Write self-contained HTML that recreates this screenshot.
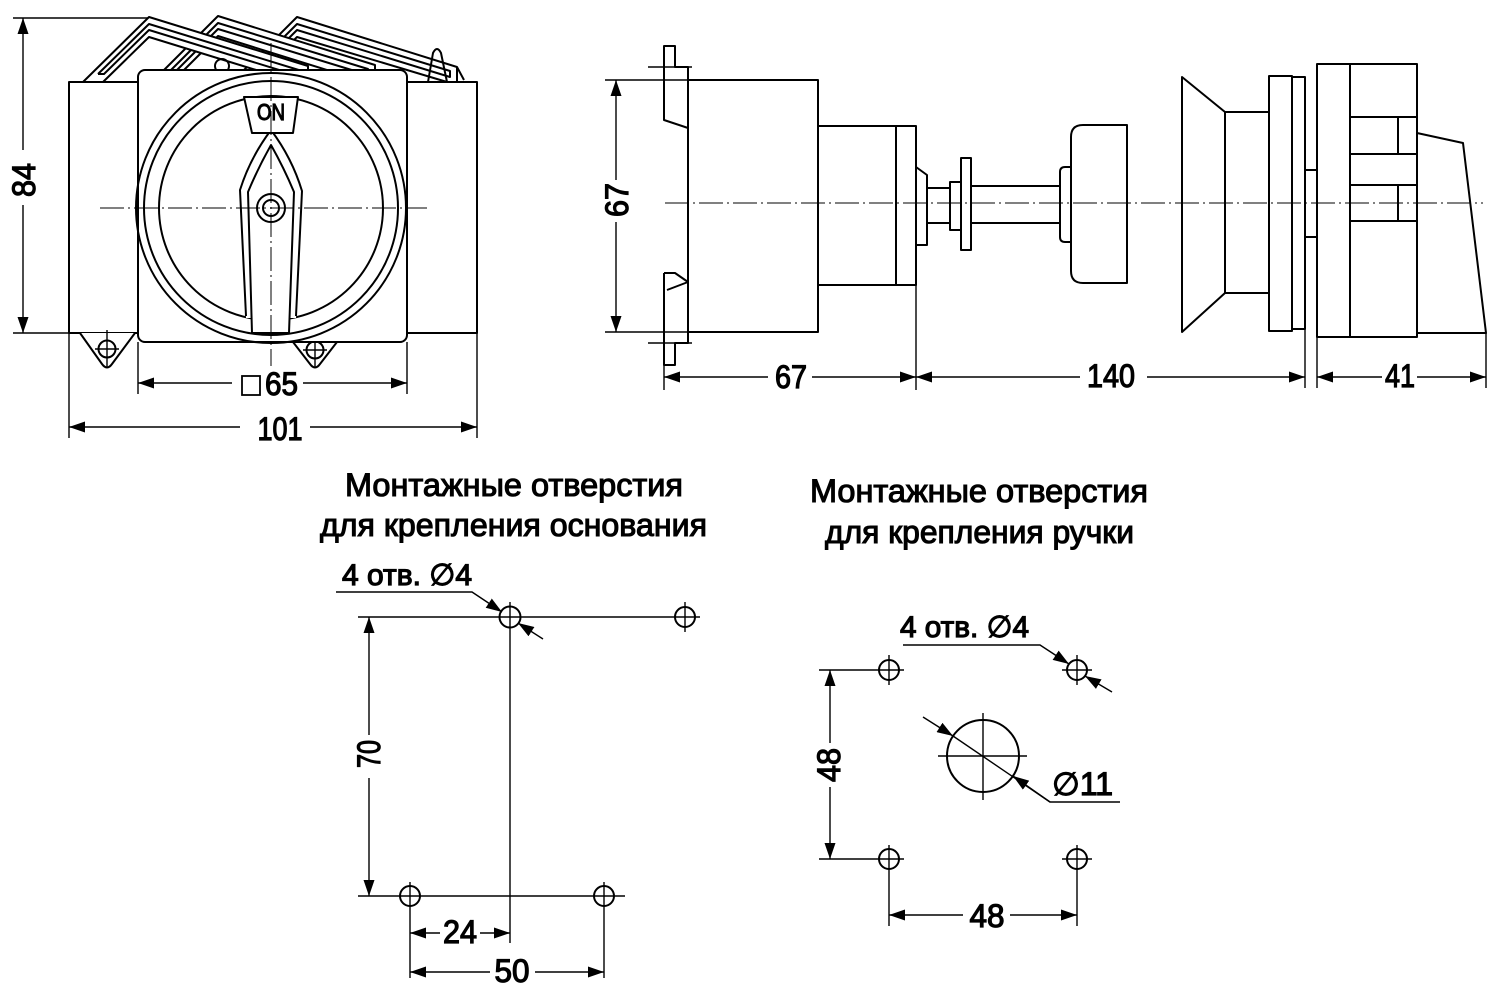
<!DOCTYPE html>
<html><head><meta charset="utf-8"><style>
html,body{margin:0;padding:0;background:#fff;}
svg{display:block;}
text{font-family:"Liberation Sans Narrow","Liberation Sans","DejaVu Sans",sans-serif;fill:#000;}
.o{stroke:#000;stroke-width:2;fill:none;stroke-linejoin:round;}
.w{stroke:#000;stroke-width:2;fill:#fff;stroke-linejoin:round;}
.d{stroke:#000;stroke-width:1.4;fill:none;}
.c{stroke:#000;stroke-width:1;fill:none;stroke-dasharray:24 4 2 4;}
.t{stroke:#000;stroke-width:1.2;}
.h{stroke:#000;stroke-width:1.1;}
</style></head><body>
<svg width="1500" height="997" viewBox="0 0 1500 997" xmlns="http://www.w3.org/2000/svg">
<defs>
<marker id="ar" markerWidth="16" markerHeight="11" refX="16" refY="5.5" orient="auto-start-reverse" markerUnits="userSpaceOnUse"><path d="M0,0 L16,5.5 L0,11 z" fill="#000"/></marker>
</defs>
<rect width="1500" height="997" fill="#fff"/>

<!-- ============ FRONT VIEW ============ -->
<polygon class="w" points="244,70 297,17 457,67 457,85 297,37 264,70"/>
<polyline class="o" points="251,70 297,24 450,71 450,77 297,30 257,70"/>
<path class="o" d="M457,67 L464,80 M428,82 L433,53 Q437,45 441,53 L447,82"/>
<polygon class="w" points="164,70 218,16 375,65 375,85 218,36 184,70"/>
<polyline class="o" points="171,70 218,23 368,69 368,75 218,29 177,70"/>
<polygon class="w" points="83,82 149,17 308,66 308,86 149,37 103,82"/>
<polyline class="o" points="98,74 149,24 302,71 302,77 149,30 104,74 98,74"/>
<circle class="o" cx="222" cy="66" r="7"/>

<rect class="w" x="69" y="82" width="408" height="251"/>
<path class="w" d="M80,333 L102,364 Q107,371 112,364 L135,333"/>
<circle class="o" cx="107" cy="349" r="8.5"/>
<path class="d" d="M95,349 H119 M107,330 V368" stroke-width="1"/>
<path class="w" d="M293,342 L310,364 Q315,371 320,364 L337,342"/>
<circle class="o" cx="315" cy="350" r="8.5"/>
<path class="d" d="M303,350 H327 M315,338 V368" stroke-width="1"/>
<rect class="w" x="138" y="70" width="269" height="272" rx="7"/>
<circle class="o" cx="271" cy="208" r="135"/>
<circle class="o" cx="271" cy="208" r="127"/>
<circle class="o" cx="271" cy="208" r="112"/>
<path d="M246,318 L240,190 Q250,158 271,130 Q292,158 302,191 L296,318 Z" fill="#fff"/>
<path class="o" d="M246,316 L240,190 Q250,158 271,130 Q292,158 302,191 L296,316"/>
<path class="w" d="M252,333 L248,192 Q258,168 271,145 Q284,168 294,192 L289,333 Z"/>
<circle class="w" cx="271" cy="208" r="14"/>
<circle class="o" cx="271" cy="208" r="8"/>
<polygon class="w" points="244,97 298,97 293,133 252,133"/>
<text x="271" y="120" font-size="23" text-anchor="middle" textLength="28" lengthAdjust="spacingAndGlyphs" class="t">ON</text>
<line class="c" x1="100" y1="208" x2="427" y2="208"/>
<line class="c" x1="271" y1="43" x2="271" y2="366"/>

<path class="d" d="M13,18 H148 M13,333 H69"/>
<line class="d" x1="23" y1="150" x2="23" y2="18" marker-end="url(#ar)"/>
<line class="d" x1="23" y1="205" x2="23" y2="333" marker-end="url(#ar)"/>
<text transform="translate(35,180) rotate(-90)" font-size="32" text-anchor="middle" textLength="34" lengthAdjust="spacingAndGlyphs" class="t">84</text>
<path class="d" d="M69,333 V438 M477,333 V438 M138,342 V394 M407,342 V394"/>
<line class="d" x1="232" y1="383" x2="138" y2="383" marker-end="url(#ar)"/>
<line class="d" x1="303" y1="383" x2="407" y2="383" marker-end="url(#ar)"/>
<rect x="242" y="376" width="18" height="19" fill="none" stroke="#000" stroke-width="1.8"/>
<text x="265" y="395" font-size="32" textLength="33" lengthAdjust="spacingAndGlyphs" class="t">65</text>
<line class="d" x1="240" y1="427" x2="69" y2="427" marker-end="url(#ar)"/>
<line class="d" x1="310" y1="427" x2="477" y2="427" marker-end="url(#ar)"/>
<text x="280" y="440" font-size="32" text-anchor="middle" textLength="45" lengthAdjust="spacingAndGlyphs" class="t">101</text>

<!-- ============ SIDE VIEW ============ -->
<path class="o" d="M688,80 V67 H675 V46 H664 V120 L688,128 V282 L667,290"/>
<path class="o" d="M664,273 H675 L688,282"/>
<path class="o" d="M664,273 V365 H675 V343 H688 V332"/>
<rect class="o" x="688" y="80" width="130" height="252"/>
<path class="d" d="M648,67 H692 M648,343 H692" stroke-width="1"/>
<rect class="o" x="818" y="126" width="98" height="159"/>
<line class="o" x1="896" y1="126" x2="896" y2="285"/>
<path class="o" d="M916,167 L927,175 V245 H916"/>
<rect class="o" x="927" y="188" width="23" height="35"/>
<rect class="o" x="950" y="182" width="11" height="48"/>
<rect class="o" x="961" y="158" width="10" height="92"/>
<rect class="o" x="971" y="186" width="89" height="37"/>
<path class="o" d="M1072,167 H1065 Q1060,167 1060,172 V237 Q1060,242 1065,242 H1072"/>
<path class="o" d="M1127,125 H1083 Q1071,125 1071,137 V271 Q1071,283 1083,283 H1127 Z"/>
<polygon class="o" points="1182,77 1225,112 1225,293 1182,332"/>
<rect class="o" x="1225" y="112" width="44" height="181"/>
<rect class="o" x="1269" y="76" width="23" height="255"/>
<rect class="o" x="1292" y="77" width="13" height="252"/>
<rect class="o" x="1305" y="170" width="12" height="67"/>
<rect class="o" x="1317" y="64" width="100" height="273"/>
<line class="o" x1="1350" y1="64" x2="1350" y2="337"/>
<path class="o" d="M1350,117 H1417 M1350,154 H1417 M1350,185 H1417 M1350,221 H1417 M1398,117 V154 M1398,185 V221"/>
<path class="o" d="M1417,133 L1463,143 L1486,333 H1417"/>
<line class="c" x1="665" y1="203" x2="1483" y2="203"/>
<path class="d" d="M605,80 H688 M605,332 H688"/>
<line class="d" x1="616" y1="180" x2="616" y2="80" marker-end="url(#ar)"/>
<line class="d" x1="616" y1="222" x2="616" y2="332" marker-end="url(#ar)"/>
<text transform="translate(628,200) rotate(-90)" font-size="32" text-anchor="middle" textLength="34" lengthAdjust="spacingAndGlyphs" class="t">67</text>
<path class="d" d="M664,365 V390 M916,285 V390 M1305,329 V388 M1317,337 V388 M1486,333 V388"/>
<line class="d" x1="768" y1="377" x2="664" y2="377" marker-end="url(#ar)"/>
<line class="d" x1="812" y1="377" x2="916" y2="377" marker-end="url(#ar)"/>
<text x="791" y="388" font-size="32" text-anchor="middle" textLength="32" lengthAdjust="spacingAndGlyphs" class="t">67</text>
<line class="d" x1="1080" y1="377" x2="916" y2="377" marker-end="url(#ar)"/>
<line class="d" x1="1147" y1="377" x2="1305" y2="377" marker-end="url(#ar)"/>
<text x="1111" y="387" font-size="32" text-anchor="middle" textLength="48" lengthAdjust="spacingAndGlyphs" class="t">140</text>
<line class="d" x1="1382" y1="377" x2="1317" y2="377" marker-end="url(#ar)"/>
<line class="d" x1="1417" y1="377" x2="1486" y2="377" marker-end="url(#ar)"/>
<text x="1400" y="387" font-size="32" text-anchor="middle" textLength="30" lengthAdjust="spacingAndGlyphs" class="t">41</text>

<!-- ============ TITLES ============ -->
<text x="345" y="496" font-size="32" textLength="338" lengthAdjust="spacingAndGlyphs" class="h">Монтажные отверстия</text>
<text x="320" y="536" font-size="32" textLength="387" lengthAdjust="spacingAndGlyphs" class="h">для крепления основания</text>
<text x="810" y="502" font-size="32" textLength="338" lengthAdjust="spacingAndGlyphs" class="h">Монтажные отверстия</text>
<text x="825" y="543" font-size="32" textLength="309" lengthAdjust="spacingAndGlyphs" class="h">для крепления ручки</text>

<!-- ============ BASE MOUNTING ============ -->
<path class="d" d="M358,617 H700 M358,896 H625 M510,602 V943 M410,882 V978 M604,882 V978 M685,602 V632"/>
<circle class="o" cx="510" cy="617" r="10.5"/>
<circle class="o" cx="685" cy="617" r="10"/>
<circle class="o" cx="410" cy="896" r="10"/>
<circle class="o" cx="604" cy="896" r="10"/>
<line class="d" x1="369" y1="735" x2="369" y2="617" marker-end="url(#ar)"/>
<line class="d" x1="369" y1="778" x2="369" y2="896" marker-end="url(#ar)"/>
<text transform="translate(380,754) rotate(-90)" font-size="32" text-anchor="middle" textLength="28" lengthAdjust="spacingAndGlyphs" class="t">70</text>
<line class="d" x1="440" y1="933" x2="410" y2="933" marker-end="url(#ar)"/>
<line class="d" x1="480" y1="933" x2="510" y2="933" marker-end="url(#ar)"/>
<text x="460" y="943" font-size="32" text-anchor="middle" textLength="34" lengthAdjust="spacingAndGlyphs" class="t">24</text>
<line class="d" x1="490" y1="972" x2="410" y2="972" marker-end="url(#ar)"/>
<line class="d" x1="535" y1="972" x2="604" y2="972" marker-end="url(#ar)"/>
<text x="512" y="982" font-size="32" text-anchor="middle" textLength="35" lengthAdjust="spacingAndGlyphs" class="t">50</text>
<polyline class="d" points="336,592 472,592 502,612" marker-end="url(#ar)"/>
<line class="d" x1="543" y1="639" x2="518" y2="623" marker-end="url(#ar)"/>
<text x="342" y="585" font-size="30" textLength="130" lengthAdjust="spacingAndGlyphs" class="t">4 отв. ∅4</text>

<!-- ============ HANDLE MOUNTING ============ -->
<path class="d" d="M819,670 H904 M1062,670 H1092 M819,859 H904 M1062,859 H1092 M889,655 V685 M1077,655 V685 M889,845 V926 M1077,845 V926"/>
<circle class="o" cx="889" cy="670" r="10"/>
<circle class="o" cx="1077" cy="670" r="10"/>
<circle class="o" cx="889" cy="859" r="10"/>
<circle class="o" cx="1077" cy="859" r="10"/>
<circle class="o" cx="983" cy="756" r="36"/>
<path class="d" d="M938,756 H1027 M983,713 V800" stroke-width="1"/>
<line class="d" x1="830" y1="743" x2="830" y2="670" marker-end="url(#ar)"/>
<line class="d" x1="830" y1="787" x2="830" y2="859" marker-end="url(#ar)"/>
<text transform="translate(840,765) rotate(-90)" font-size="32" text-anchor="middle" textLength="34" lengthAdjust="spacingAndGlyphs" class="t">48</text>
<line class="d" x1="963" y1="915" x2="889" y2="915" marker-end="url(#ar)"/>
<line class="d" x1="1010" y1="915" x2="1077" y2="915" marker-end="url(#ar)"/>
<text x="987" y="927" font-size="32" text-anchor="middle" textLength="35" lengthAdjust="spacingAndGlyphs" class="t">48</text>
<polyline class="d" points="903,645 1040,645 1069,664" marker-end="url(#ar)"/>
<line class="d" x1="1112" y1="692" x2="1085" y2="676" marker-end="url(#ar)"/>
<text x="900" y="637" font-size="30" textLength="129" lengthAdjust="spacingAndGlyphs" class="t">4 отв. ∅4</text>
<line class="d" x1="923" y1="717" x2="953" y2="736" marker-end="url(#ar)"/>
<line class="d" x1="953" y1="736" x2="1050" y2="802"/>
<polyline class="d" points="1120,802 1050,802 1013,776" marker-end="url(#ar)"/>
<text x="1052" y="795" font-size="32" textLength="61" lengthAdjust="spacingAndGlyphs" class="t">∅11</text>
</svg>
</body></html>
